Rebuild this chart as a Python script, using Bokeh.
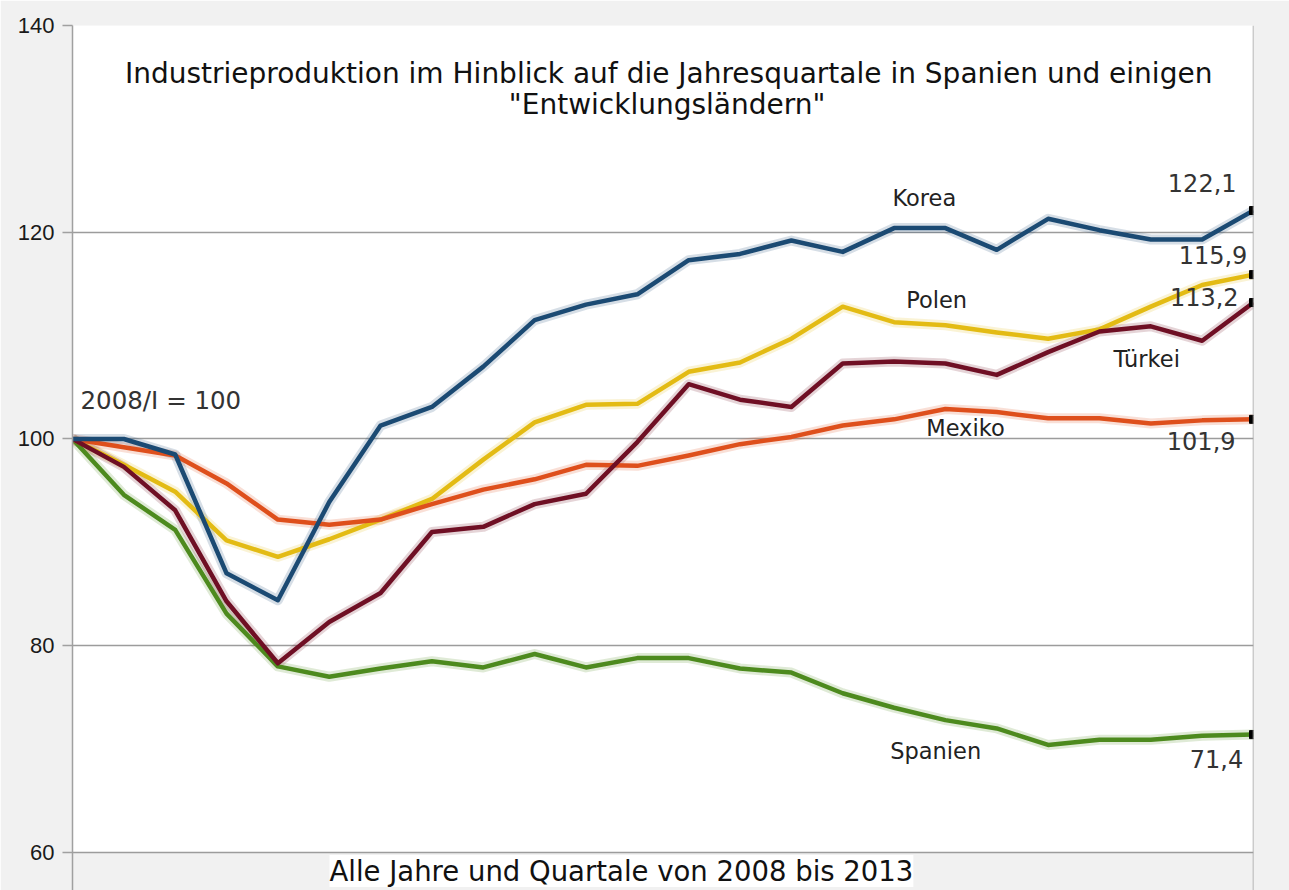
from bokeh.plotting import figure
from bokeh.models import Range1d, FixedTicker, Label, BoxAnnotation, Span
from bokeh.embed import file_html
from bokeh.resources import INLINE

quarters = ["2008/I", "2008/II", "2008/III", "2008/IV",
            "2009/I", "2009/II", "2009/III", "2009/IV",
            "2010/I", "2010/II", "2010/III", "2010/IV",
            "2011/I", "2011/II", "2011/III", "2011/IV",
            "2012/I", "2012/II", "2012/III", "2012/IV",
            "2013/I", "2013/II", "2013/III", "2013/IV"]

korea = [100.0, 100.0, 98.5, 87.0, 84.4, 93.9, 101.3, 103.1, 107.0, 111.5, 113.0, 114.0,
         117.3, 117.9, 119.2, 118.1, 120.4, 120.4, 118.3, 121.3, 120.2, 119.3, 119.3, 122.1]
polen = [100.0, 97.5, 94.9, 90.2, 88.6, 90.3, 92.2, 94.2, 98.0, 101.6, 103.3, 103.4,
         106.5, 107.4, 109.7, 112.8, 111.3, 111.0, 110.3, 109.7, 110.6, 112.8, 114.9, 115.9]
tuerkei = [100.0, 97.3, 93.1, 84.3, 78.3, 82.3, 85.1, 91.0, 91.5, 93.7, 94.7, 99.7,
           105.3, 103.8, 103.1, 107.3, 107.5, 107.3, 106.2, 108.4, 110.4, 110.9, 109.5, 113.2]
mexiko = [100.0, 99.2, 98.4, 95.7, 92.2, 91.7, 92.2, 93.7, 95.1, 96.1, 97.5, 97.4,
          98.4, 99.5, 100.2, 101.3, 101.9, 102.9, 102.6, 102.0, 102.0, 101.5, 101.8, 101.9]
spanien = [100.0, 94.6, 91.2, 83.1, 78.0, 77.0, 77.8, 78.5, 77.9, 79.2, 77.9, 78.8,
           78.8, 77.8, 77.4, 75.4, 74.0, 72.8, 72.0, 70.4, 70.9, 70.9, 71.3, 71.4]

y_ticks = [60, 80, 100, 120, 140]

x = list(range(len(quarters)))
last = len(quarters) - 1

p = figure(width=1289, height=890, output_backend="svg", toolbar_location=None,
           x_axis_location=None, x_range=Range1d(0, last), y_range=Range1d(56.32, 140),
           min_border_left=72, min_border_right=36, min_border_top=25, min_border_bottom=0)
p.border_fill_color = "#f1f1f1"
p.background_fill_color = "#f1f1f1"
p.outline_line_color = None

p.add_layout(BoxAnnotation(bottom=60, top=140, fill_color="white", fill_alpha=1.0,
                           line_color=None, level="image"))
p.add_layout(Span(location=last, dimension="height", line_color="#a0a0a0", line_width=1.5))

p.xgrid.visible = False
p.ygrid.ticker = FixedTicker(ticks=y_ticks)
p.ygrid.grid_line_color = "#9c9c9c"
p.ygrid.grid_line_width = 1.5

ax = p.yaxis[0]
ax.ticker = FixedTicker(ticks=y_ticks)
ax.axis_line_color = "#a0a0a0"
ax.axis_line_width = 1.5
ax.major_tick_line_color = "#a0a0a0"
ax.major_tick_line_width = 1.5
ax.major_tick_out = 10
ax.major_tick_in = 0
ax.minor_tick_line_color = None
ax.major_label_standoff = 8
ax.major_label_text_font = "Liberation Sans"
ax.major_label_text_font_size = "22px"
ax.major_label_text_color = "#1a1a1a"

series = [
    ("Spanien", spanien, "#4d8a1e"),
    ("Polen", polen, "#e3bb14"),
    ("Mexiko", mexiko, "#de4f1c"),
    ("Türkei", tuerkei, "#6f0f24"),
    ("Korea", korea, "#1b4a73"),
]
for name, vals, col in series:
    p.line(x, vals, line_color=col, line_alpha=0.18, line_width=10, line_join="round")
for name, vals, col in series:
    p.line(x, vals, line_color=col, line_width=4.5, line_join="round")

p.scatter([last] * len(series), [s[1][-1] for s in series], marker="square", size=8,
          color="black")

def lab(text, xd, yd, size, align="center", color="#222222", font="DejaVu Sans", **kw):
    l = Label(x=xd, y=yd, text=text, text_font=font, text_font_size=size,
              text_align=align, text_baseline="middle", text_color=color, **kw)
    p.add_layout(l)

def fmt(v):
    return f"{v:.1f}".replace(".", ",")

# title
lab("Industrieproduktion im Hinblick auf die Jahresquartale in Spanien und einigen",
    11.61, 135.36, "28px", color="#111111")
lab("\"Entwicklungsländern\"", 11.58, 132.36, "28px", color="#111111")

# series names
lab("Korea", 16.59, 123.36, "22.5px")
lab("Polen", 16.83, 113.4, "22.5px")
lab("Türkei", 20.92, 107.69, "22.5px")
lab("Mexiko", 17.39, 101.11, "22.5px")
lab("Spanien", 16.81, 69.77, "22.5px")

lab("2008/I = 100", 0.156, 103.72, "24.5px", align="left", color="#333333")

# end values
lab(fmt(korea[-1]), 22.67, 124.81, "24px", align="right", color="#333333")
lab(fmt(polen[-1]), 22.88, 117.75, "24px", align="right", color="#333333")
lab(fmt(tuerkei[-1]), 22.71, 113.78, "24px", align="right", color="#333333")
lab(fmt(mexiko[-1]), 22.65, 99.76, "24px", align="right", color="#333333")
lab(fmt(spanien[-1]), 22.80, 69.0, "24px", align="right", color="#333333")

# x axis title
lab("Alle Jahre und Quartale von 2008 bis 2013", 10.69, 58.2, "27.5px", color="#111111",
    background_fill_color="white")

open("out.html", "w").write(file_html(p, INLINE))
